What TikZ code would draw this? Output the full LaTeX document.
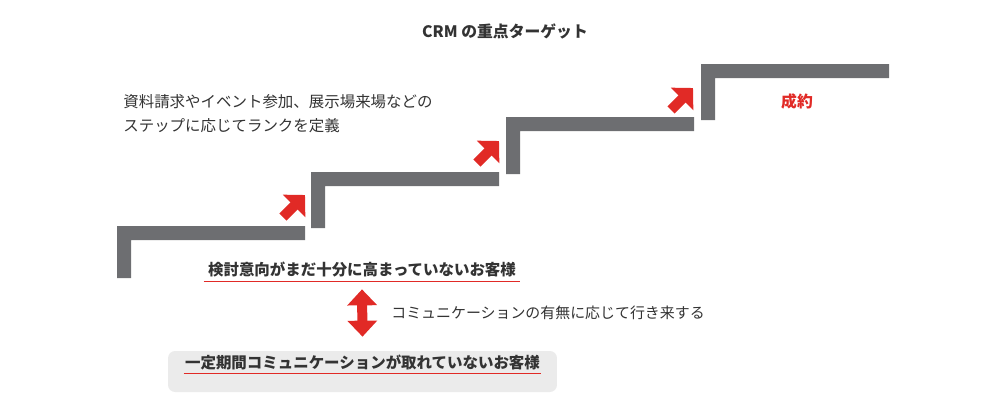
\documentclass[tikz,border=0pt]{standalone}
\usepackage{fontspec}
\setmainfont{Noto Sans CJK JP}
\usetikzlibrary{arrows.meta,positioning,calc}
\definecolor{stairgray}{HTML}{6D6E71}
\definecolor{accentred}{HTML}{E12A26}
\definecolor{txtdark}{HTML}{333333}
\definecolor{boxgray}{HTML}{EBEBEB}

\begin{document}
\begin{tikzpicture}[
  x=0.02cm, y=-0.02cm,
  font=\fontsize{8.8}{13.6}\selectfont, text=txtdark,
  stair/.style={fill=stairgray, draw=none},
  rise arr/.style={-{Triangle[width=0.62cm, length=0.31cm]}, line width=0.2cm, draw=accentred},
  both arr/.style={{Triangle[width=0.58cm, length=0.32cm]}-{Triangle[width=0.58cm, length=0.32cm]}, line width=0.2cm, draw=accentred},
  tgt label/.style={font=\fontsize{8.8}{13.6}\selectfont\bfseries, inner sep=0pt, minimum height=0.44cm},
  red line/.style={draw=accentred, line width=0.7pt}
]
\useasboundingbox (0,0) rectangle (1000,400);

% ---------- title ----------
\node[font=\fontsize{9}{11}\selectfont\bfseries] (title) at (505,31) {CRM の重点ターゲット};

% ---------- stairs ----------
\foreach \sx/\sy/\h in {117/226/52, 311/172/56, 506/117/57, 701/64/56}
  \fill[stair] (\sx,\sy) -- ++(188,0) -- ++(0,14) -- ++(-174,0) -- ++(0,\h-14) -- ++(-14,0) -- cycle;

% ---------- rise arrows ----------
\coordinate (rise1 tail) at (283,217);
\coordinate (rise1 tip) at (305,195);
\coordinate (rise2 tail) at (477,163);
\coordinate (rise2 tip) at (499,141);
\coordinate (rise3 tail) at (671,110);
\coordinate (rise3 tip) at (693,88);
\foreach \i in {1,2,3}
  \draw[rise arr] (rise\i\space tail) -- (rise\i\space tip);

% ---------- texts ----------
\node[anchor=west, align=left, inner sep=0pt] (rankdef) at (123,114) {資料請求やイベント参加、展示場来場などの\\ステップに応じてランクを定義};
\node[font=\fontsize{9}{11}\selectfont\bfseries, text=accentred] (deal) at (797,101) {成約};

% ---------- targets ----------
\node[tgt label, minimum width=6.32cm] (lowtgt) at (362,270) {検討意向がまだ十分に高まっていないお客様};
\draw[red line] (lowtgt.south west) -- (lowtgt.south east);

\node[fill=boxgray, rounded corners=4pt, minimum width=7.78cm, minimum height=0.82cm, inner sep=0pt] (oldbox) at (362.5,371.5) {};
\node[tgt label, minimum width=7.14cm] (oldtgt) at (362.5,362) {一定期間コミュニケーションが取れていないお客様};
\draw[red line] (oldtgt.south west) -- (oldtgt.south east);

% ---------- back and forth ----------
\draw[both arr] ($(lowtgt.south)+(0,8)$) coordinate (swap top) -- ($(oldbox.north)+(0,-14)$) coordinate (swap bottom);
\node[anchor=west, inner sep=0pt, font=\fontsize{8.5}{11}\selectfont] (swaptext) at (391,313) {コミュニケーションの有無に応じて行き来する};
\end{tikzpicture}
\end{document}
